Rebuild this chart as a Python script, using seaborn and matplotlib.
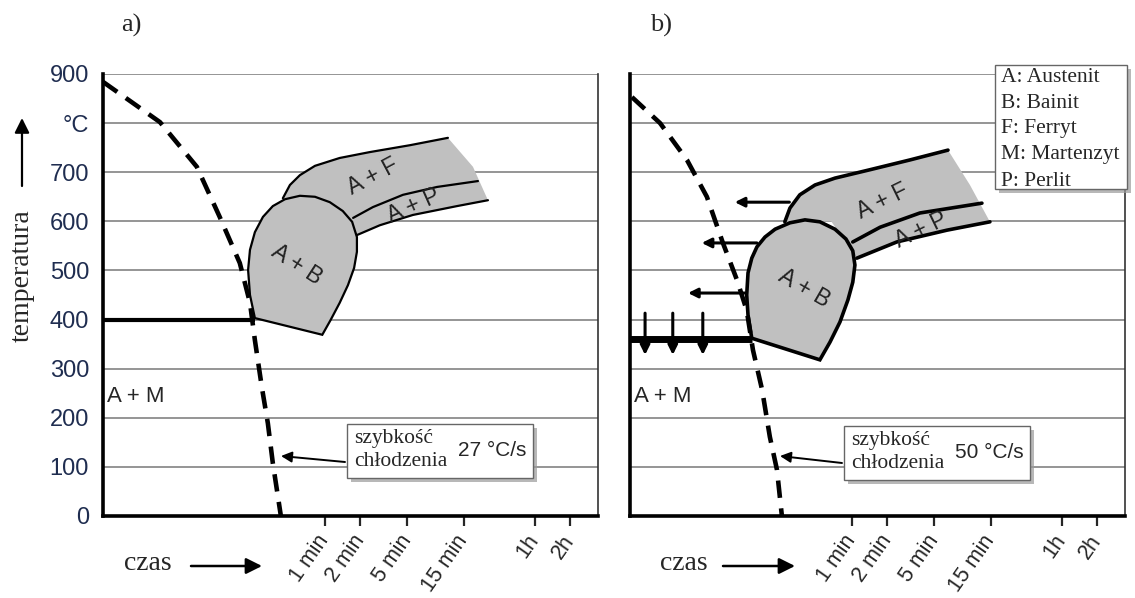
import matplotlib
matplotlib.use('Agg')
import matplotlib.pyplot as plt
from matplotlib.patches import Rectangle
from matplotlib.ticker import NullLocator
import seaborn as sns

# os czasu w sekundach (skala log), temperatura w °C
tick_czas = [60, 120, 300, 900, 3600, 7200]
tick_etykiety = ['1 min', '2 min', '5 min', '15 min', '1h', '2h']
temp_ticks = [0, 100, 200, 300, 400, 500, 600, 700, 800, 900]
temp_etykiety = ['0', '100', '200', '300', '400', '500', '600', '700', '°C', '900']

# --- a) 27 °C/s ---
a_chlodz_t = [0.79, 2.4, 4.93, 7.7, 11.4, 13.9, 15.3, 17.5, 19.7, 21.7, 25.4]
a_chlodz_T = [884, 802, 711, 609, 515, 434, 358, 263, 189, 108, 0]
a_poziom_t = [0.79, 15.3]
a_poziom_T = [400, 400]
a_AB_t = [15.3, 13.9, 13.4, 13.9, 15.3, 17.9, 21.7, 27.5, 36.8, 49.4, 66, 85, 102, 112, 112, 106, 94, 80, 67, 57]
a_AB_T = [403, 450, 501, 542, 578, 609, 631, 645, 652, 650, 639, 621, 599, 568, 538, 505, 470, 434, 399, 369]
a_gora_t = [26.4, 30.3, 36.8, 49.4, 80, 144, 315, 661]
a_gora_T = [647, 674, 694, 713, 729, 741, 755, 770]
a_koniec_t = [661, 1078, 1444]
a_koniec_T = [770, 711, 643]
a_dol_t = [112, 175, 334, 788, 1444]
a_dol_T = [572, 592, 613, 631, 643]
a_srodek_t = [104, 153, 275, 534, 1188]
a_srodek_T = [607, 629, 654, 670, 682]

# --- b) 50 °C/s ---
b_chlodz_t = [0.82, 1.42, 2.4, 3.54, 4.84, 6.36, 7.7, 8.7, 10.4, 12.1, 13.9, 15.3]
b_chlodz_T = [853, 800, 725, 650, 556, 481, 419, 338, 257, 161, 94, 0]
b_poziom_t = [0.79, 8.5]
b_poziom_T = [360, 360]
b_AB_t = [8.5, 7.9, 7.7, 7.9, 8.5, 9.4, 11.0, 13.4, 17.9, 24.0, 32.1, 43.1, 53.4, 61, 63.6, 61, 55.5, 47.5, 39.1, 32.1]
b_AB_T = [362, 409, 450, 495, 525, 548, 568, 584, 597, 603, 599, 584, 564, 540, 511, 476, 440, 395, 354, 318]
b_gora_t = [16.2, 17.9, 21.7, 29.2, 43.1, 85, 186, 391]
b_gora_T = [599, 627, 654, 674, 688, 705, 725, 745]
b_koniec_t = [391, 600, 886]
b_koniec_T = [745, 674, 599]
b_dol_t = [66, 144, 383, 886]
b_dol_T = [525, 558, 582, 599]
b_srodek_t = [61, 104, 226, 758]
b_srodek_T = [558, 588, 617, 637]
# strzalki w b)
b_lewo_od = [(17.7, 639), (9.4, 556), (7.4, 454)]
b_lewo_do = [(6.1, 639), (3.2, 556), (2.45, 454)]
b_dol_x = [1.06, 1.82, 3.27]
b_dol_od, b_dol_do = 413, 328

legenda = ['A: Austenit', 'B: Bainit', 'F: Ferryt', 'M: Martenzyt', 'P: Perlit']

W, H = 1135, 598
SZARY = '#c0c0c0'
SERIF = ['Liberation Serif', 'DejaVu Serif']

sns.set_style('white')
plt.rcParams['font.family'] = ['Liberation Sans', 'DejaVu Sans']


def px(x, y):
    return (x / W, 1 - y / H)


def osie(ax, kolory, etykiety_y=True):
    ax.set_xscale('log')
    ax.set_xlim(0.79, 12360)
    ax.set_ylim(0, 900)
    ax.set_yticks(temp_ticks)
    ax.set_yticklabels(temp_etykiety if etykiety_y else [])
    ax.yaxis.grid(True, color='#8c8c8c', lw=1.3)
    ax.xaxis.grid(False)
    ax.set_axisbelow(True)
    ax.set_xticks(tick_czas)
    ax.set_xticklabels(tick_etykiety, rotation=55, ha='right', va='center',
                       rotation_mode='anchor', fontsize=15.5)
    ax.xaxis.set_minor_locator(NullLocator())
    ax.tick_params(axis='y', left=False, length=0, pad=10, labelsize=17, labelcolor='#1f2d50')
    ax.tick_params(axis='x', bottom=True, length=7, width=1.6, pad=8)
    for t, c in zip(ax.xaxis.get_major_ticks(), kolory):
        t.tick1line.set_color(c)
    for s in ['left', 'bottom']:
        ax.spines[s].set_linewidth(2.6)
        ax.spines[s].set_color('k')
    ax.spines['right'].set_linewidth(1.2)
    ax.spines['right'].set_color('#333333')
    ax.spines['top'].set_visible(False)
    ax.set_xlabel('')
    ax.set_ylabel('')


def panel(ax, ch_t, ch_T, po_t, po_T, ab_t, ab_T, g_t, g_T, k_t, k_T, d_t, d_T, s_t, s_T, lw_obr, lw_poz):
    # pasmo A+F / A+P
    pasmo_t = g_t + k_t[1:] + d_t[::-1] + [40]
    pasmo_T = g_T + k_T[1:] + d_T[::-1] + [600]
    ax.fill(pasmo_t, pasmo_T, color=SZARY, lw=0, zorder=2)
    ax.fill(ab_t, ab_T, facecolor=SZARY, edgecolor='k', lw=lw_obr, zorder=3)
    for xs, ys in [(g_t, g_T), (d_t, d_T), (s_t, s_T)]:
        sns.lineplot(x=xs, y=ys, ax=ax, sort=False, estimator=None, color='k', lw=lw_obr, zorder=3)
    sns.lineplot(x=po_t, y=po_T, ax=ax, sort=False, estimator=None, color='k', lw=lw_poz, zorder=4,
                 solid_capstyle='butt')
    sns.lineplot(x=ch_t, y=ch_T, ax=ax, sort=False, estimator=None, color='k', lw=3.3, zorder=5)
    linia = ax.lines[-1]
    linia.set_linestyle((0, (3.8, 2.3)))
    linia.set_dash_capstyle('butt')


fig = plt.figure(figsize=(W / 100, H / 100), dpi=100)
ax_a = fig.add_axes([103 / W, 82 / H, 495 / W, 442 / H])
ax_b = fig.add_axes([630 / W, 82 / H, 495 / W, 442 / H])

panel(ax_a, a_chlodz_t, a_chlodz_T, a_poziom_t, a_poziom_T, a_AB_t, a_AB_T, a_gora_t, a_gora_T,
      a_koniec_t, a_koniec_T, a_dol_t, a_dol_T, a_srodek_t, a_srodek_T, 1.6, 3.0)
panel(ax_b, b_chlodz_t, b_chlodz_T, b_poziom_t, b_poziom_T, b_AB_t, b_AB_T, b_gora_t, b_gora_T,
      b_koniec_t, b_koniec_T, b_dol_t, b_dol_T, b_srodek_t, b_srodek_T, 2.6, 5.0)

osie(ax_a, ['#aaaaaa', '#aaaaaa', '#aaaaaa', 'k', '#aaaaaa', '#aaaaaa'])
osie(ax_b, ['k', '#bbbbbb', '#bbbbbb', '#bbbbbb', 'k', '#bbbbbb'], etykiety_y=False)

strz = dict(arrowstyle='-|>', color='k', lw=2.2, mutation_scale=14, shrinkA=0, shrinkB=0)
for (x0, y0), (x1, y1) in zip(b_lewo_od, b_lewo_do):
    ax_b.annotate('', xy=(x1, y1), xytext=(x0, y0), arrowprops=strz, zorder=6)
for x in b_dol_x:
    ax_b.annotate('', xy=(x, b_dol_do), xytext=(x, b_dol_od), arrowprops=strz, zorder=6)

# opisy obszarow
obsz = dict(fontsize=16.5, color='#222222', ha='center', va='center', zorder=7)
for (x, y, s, r) in [(373, 177, 'A + F', 28), (414, 206, 'A + P', 24), (297, 265, 'A + B', -33),
                     (882, 201, 'A + F', 26), (921, 230, 'A + P', 26), (804, 288, 'A + B', -30)]:
    fig.text(*px(x, y), s, rotation=r, **obsz)
fig.text(*px(107, 397), 'A + M', fontsize=16, ha='left', va='center')
fig.text(*px(634, 397), 'A + M', fontsize=16, ha='left', va='center')

# tytuly
fig.text(*px(131, 25), 'a)', family=SERIF, fontsize=19, ha='center', va='center')
fig.text(*px(661, 25), 'b)', family=SERIF, fontsize=19, ha='center', va='center')

# os temperatury
fig.text(*px(22, 276), 'temperatura', family=SERIF, fontsize=20, rotation=90, ha='center', va='center')
ax_a.annotate('', xy=px(22, 118), xycoords='figure fraction', xytext=px(22, 186),
              textcoords='figure fraction',
              arrowprops=dict(arrowstyle='-|>', color='k', lw=1.6, mutation_scale=22, shrinkA=0, shrinkB=0))

# os czasu
for (xc, x0, x1) in [(148, 191, 262), (684, 723, 795)]:
    fig.text(*px(xc, 564), 'czas', family=SERIF, fontsize=20, ha='center', va='center')
    ax_a.annotate('', xy=px(x1, 566), xycoords='figure fraction', xytext=px(x0, 566),
                  textcoords='figure fraction',
                  arrowprops=dict(arrowstyle='-|>', color='k', lw=1.8, mutation_scale=24, shrinkA=0, shrinkB=0))


def ramka(x0, y0, x1, y1):
    fx, fy = px(x0, y1)
    w, h = (x1 - x0) / W, (y1 - y0) / H
    fig.add_artist(Rectangle((fx + 4 / W, fy - 4 / H), w, h, transform=fig.transFigure,
                             facecolor='#9a9a9a', edgecolor='none', alpha=0.7, zorder=8))
    fig.add_artist(Rectangle((fx, fy), w, h, transform=fig.transFigure,
                             facecolor='white', edgecolor='#666666', lw=1.0, zorder=9))


# szybkosc chlodzenia
for (bx, ax_, tail, head, wart) in [((347, 424, 533, 478), ax_a, (345, 462), (281, 456), '27 °C/s'),
                                    ((844, 426, 1030, 480), ax_b, (842, 463), (780, 456), '50 °C/s')]:
    ramka(*bx)
    fig.text(*px(bx[0] + 7, bx[1] + 14), 'szybkość', family=SERIF, fontsize=15.5, ha='left', va='center', zorder=10)
    fig.text(*px(bx[0] + 7, bx[1] + 38), 'chłodzenia', family=SERIF, fontsize=15.5, ha='left', va='center', zorder=10)
    fig.text(*px(bx[0] + 111, bx[1] + 26), wart, fontsize=15, ha='left', va='center', zorder=10)
    ax_.annotate('', xy=px(*head), xycoords='figure fraction', xytext=px(*tail),
                 textcoords='figure fraction',
                 arrowprops=dict(arrowstyle='-|>', color='k', lw=1.4, mutation_scale=16, shrinkA=0, shrinkB=0))

# legenda
ramka(995, 65, 1127, 189)
for i, s in enumerate(legenda):
    fig.text(*px(1001, 77 + 26 * i), s, family=SERIF, fontsize=15.5, ha='left', va='center', zorder=10)

fig.savefig('out.png', dpi=100)
